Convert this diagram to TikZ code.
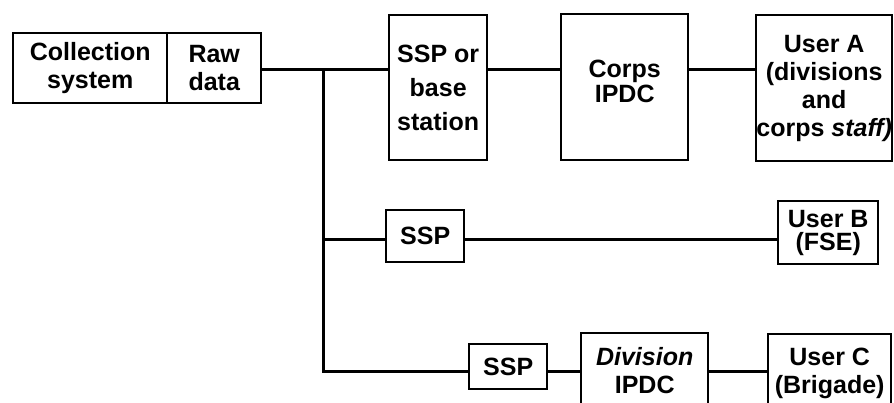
\documentclass[tikz,border=0pt]{standalone}
\usepackage{fontspec}
\newfontfamily\lab{Liberation Sans}
\begin{document}
\begin{tikzpicture}[x=1pt,y=-1pt,
  box/.style={draw, line width=2.4pt, inner sep=0pt, align=center, anchor=north west},
  lsk/.style={font=\lab\bfseries\fontsize{25}{#1}\selectfont},
  conn/.style={line width=3pt}]
\useasboundingbox (0,0) rectangle (894,402);
\clip (0,0) rectangle (894,402);
% row 1
\node[box, lsk=28, minimum width=154pt, minimum height=70pt] (coll) at (12,32) {Collection\\system};
\node[box, lsk=28, minimum width=94pt, minimum height=70pt] (raw) at (166,32) {Raw\\data};
\node[box, lsk=34, minimum width=98pt, minimum height=145pt] (sspb) at (388,14) {SSP or\\base\\station};
\node[box, lsk=25, minimum width=127pt, minimum height=146pt] (corps) at (560,13) {Corps\\IPDC\\[-14pt]};
\node[box, lsk=28, minimum width=136pt, minimum height=146pt] (usera) at (755,14) {User A\\(divisions\\and\\corps \textit{staff)}};
% row 2
\node[box, lsk=28, minimum width=78pt, minimum height=52pt] (ssp2) at (385,209) {SSP};
\node[box, lsk=23, minimum width=100pt, minimum height=63pt] (userb) at (777,200) {User B\\(FSE)};
% row 3
\node[box, lsk=28, minimum width=78pt, minimum height=45pt] (ssp3) at (468,343) {SSP};
\node[box, lsk=28, minimum width=127pt, minimum height=84pt] (divi) at (580,332) {\textit{Division}\\IPDC\\[-18pt]};
\node[box, lsk=28, minimum width=123pt, minimum height=84pt] (userc) at (767,333) {User C\\(Brigade)\\[-18pt]};
% junctions
\coordinate (j1) at (323,69);
\coordinate (j2) at (323,239);
\coordinate (j3) at (323,371);
% connectors
\draw[conn] (raw.east |- j1) -- (sspb.west |- j1);
\draw[conn] (sspb.east |- j1) -- (corps.west |- j1);
\draw[conn] (corps.east |- j1) -- (usera.west |- j1);
\draw[conn] (j1) -- (j3) -- (ssp3.west |- j3);
\draw[conn] (j2) -- (ssp2.west |- j2);
\draw[conn] (ssp2.east |- j2) -- (userb.west |- j2);
\draw[conn] (ssp3.east |- j3) -- (divi.west |- j3);
\draw[conn] (divi.east |- j3) -- (userc.west |- j3);
\end{tikzpicture}
\end{document}
